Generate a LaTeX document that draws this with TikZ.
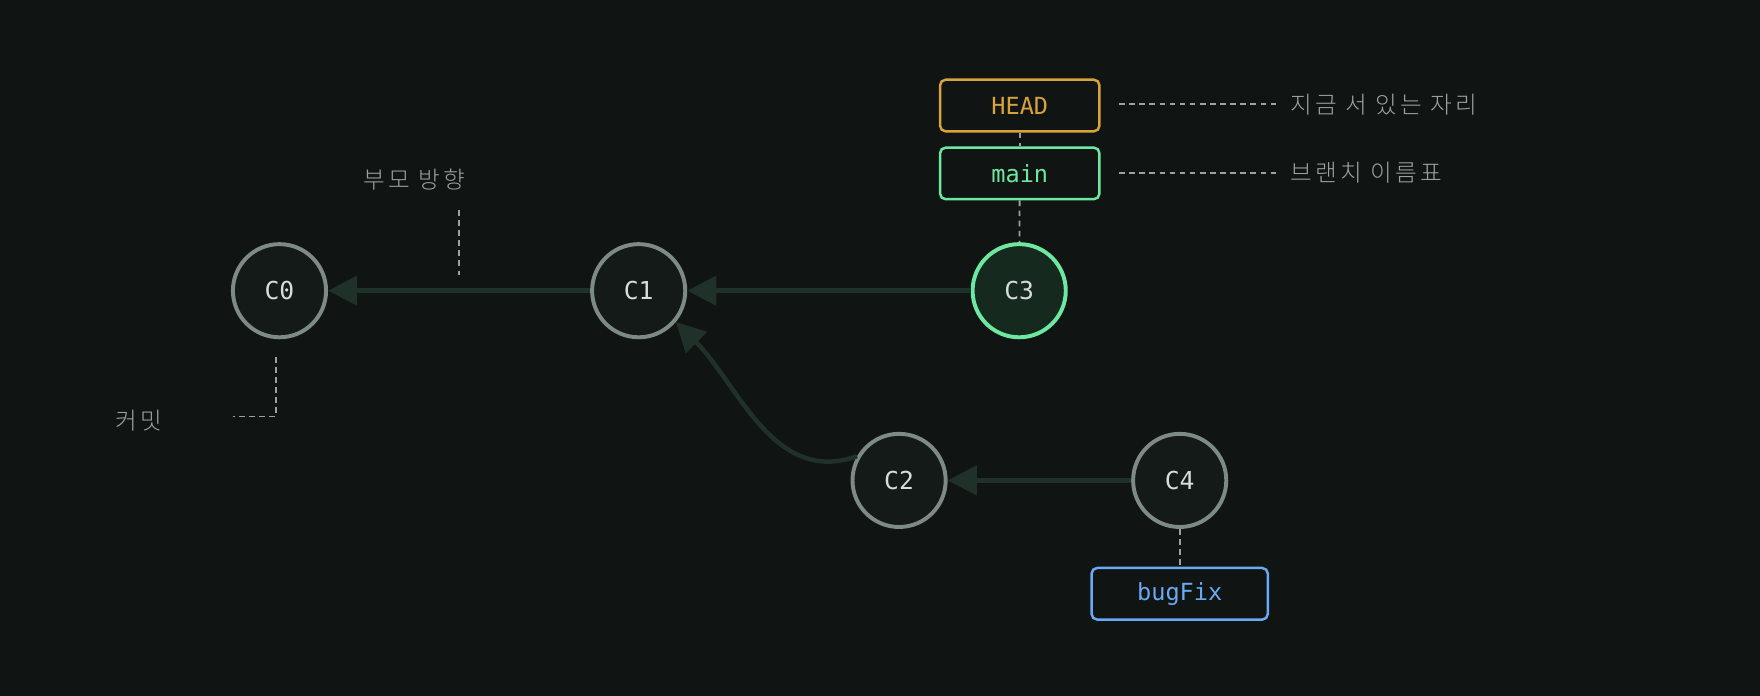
\documentclass[tikz,border=0pt]{standalone}
\usepackage{fontspec}
\setmonofont{DejaVu Sans Mono}
\newfontfamily\kr[LetterSpace=14]{Noto Sans CJK KR Light}
\usetikzlibrary{arrows.meta}
\definecolor{bg}{HTML}{101413}
\definecolor{cfill}{HTML}{141A17}
\definecolor{cgray}{HTML}{7E8A84}
\definecolor{cgreen}{HTML}{6EE7A0}
\definecolor{gfill}{HTML}{15291E}
\definecolor{edge}{HTML}{1F3128}
\definecolor{lab}{HTML}{9AA39E}
\definecolor{orng}{HTML}{D8A23C}
\definecolor{blu}{HTML}{6AAAF2}
\definecolor{ctext}{HTML}{D8DDDA}
\tikzset{
 commit/.style={circle,draw=cgray,line width=3.5pt,fill=cfill,minimum size=83pt,inner sep=0pt,text=ctext,font=\ttfamily\fontsize{22}{22}\selectfont},
 ref/.style={draw=#1,rounded corners=5pt,line width=2.2pt,text=#1,minimum width=142pt,minimum height=46pt,font=\ttfamily\fontsize{21}{21}\selectfont},
 par/.style={draw=edge,line width=4pt,-{Triangle[length=26pt,width=26pt]}},
 dsh/.style={draw=lab,line width=1.6pt,dash pattern=on 5pt off 4pt},
 note/.style={text=lab,font=\kr\fontsize{21}{21}\selectfont,anchor=west}
}
\begin{document}
\begin{tikzpicture}[x=1pt,y=-1pt]
\fill[bg] (0,0) rectangle (1568,620);
\useasboundingbox (0,0) rectangle (1568,620);
\node[commit] (c0) at (249,259) {C0};
\node[commit] (c1) at (569,259) {C1};
\node[commit,draw=cgreen,fill=gfill] (c3) at (908,259) {C3};
\node[commit] (c2) at (801,428) {C2};
\node[commit] (c4) at (1051,428) {C4};
\draw[par] (c1) -- (c0);
\draw[par] (c3) -- (c1);
\draw[par] (c4) -- (c2);
\draw[par] (c2.150) to[out=200,in=-45] (c1.-40);
\node[ref=orng] (head) at (908.5,94) {HEAD};
\node[ref=cgreen] (main) at (908.5,154.5) {main};
\node[ref=blu,minimum width=157pt] (bug) at (1051,529) {bugFix};
\draw[dsh] (head) -- (main);
\draw[dsh] (main) -- (c3);
\draw[dsh] (c4) -- (bug);
\coordinate (h1) at (997,93); \coordinate (h2) at (1140,93);
\draw[dsh] (h1) -- (h2);
\node[note] (hl) at (1146,93) {지금 서 있는 자리};
\coordinate (m1) at (997,154); \coordinate (m2) at (1140,154);
\draw[dsh] (m1) -- (m2);
\node[note] (ml) at (1146,154) {브랜치 이름표};
\node[note] (pl) at (320,160) {부모 방향};
\coordinate (p1) at (409,187); \coordinate (p2) at (409,245);
\draw[dsh] (p1) -- (p2);
\node[note] (cl) at (99,375) {커밋};
\coordinate (k1) at (246,318); \coordinate (k2) at (246,371); \coordinate (k3) at (208,371);
\draw[dsh] (k1) -- (k2) -- (k3);
\end{tikzpicture}
\end{document}
